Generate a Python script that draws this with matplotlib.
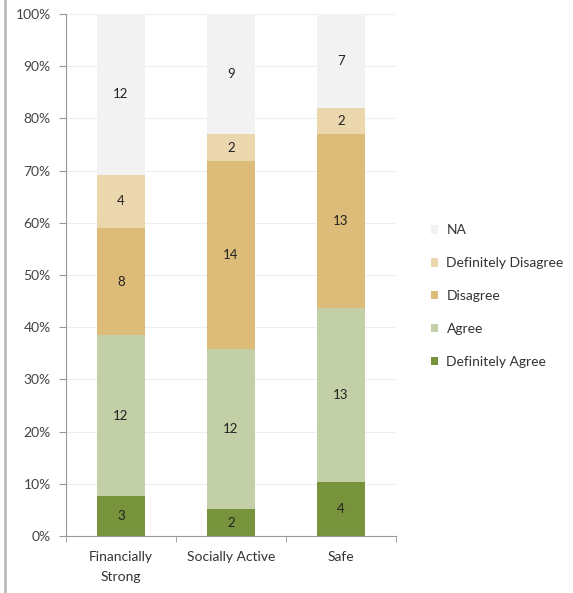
import numpy as np
import matplotlib
matplotlib.use("Agg")
import matplotlib.pyplot as plt
from matplotlib.lines import Line2D
from matplotlib.patches import Patch

plt.rcParams['font.family'] = ['Lato', 'DejaVu Sans']

categories = ["Financially\nStrong", "Socially Active", "Safe"]
series_names = ["Definitely Agree", "Agree", "Disagree", "Definitely Disagree", "NA"]
definitely_agree = [3, 2, 4]
agree = [12, 12, 13]
disagree = [8, 14, 13]
definitely_disagree = [4, 2, 2]
na = [12, 9, 7]
colors = ["#77933C", "#C3CFA6", "#DDBB78", "#EAD7AE", "#F2F2F2"]

series = [definitely_agree, agree, disagree, definitely_disagree, na]
counts = np.array(series, dtype=float)
totals = counts.sum(axis=0)
shares = counts / totals * 100

fig = plt.figure(figsize=(5.73, 5.93), dpi=100)
ax = fig.add_axes([66 / 573, 57 / 593, 330 / 573, 522 / 593])

x = np.arange(len(categories))
bottom = np.zeros(len(categories))
for vals, share, col in zip(series, shares, colors):
    ax.bar(x, share, bottom=bottom, width=0.43, color=col, zorder=2)
    for xi, b, s, v in zip(x, bottom, share, vals):
        ax.text(xi, b + s / 2, str(v), ha="center", va="center",
                fontsize=9.5, color="#222222", zorder=3)
    bottom += share

ax.set_xlim(-0.5, 2.5)
ax.set_ylim(0, 100)
ax.set_yticks(np.arange(0, 101, 10))
ax.set_yticklabels([f"{v}%" for v in range(0, 101, 10)], fontsize=10, color="#444444")
ax.set_xticks(x)
ax.set_xticklabels(categories, fontsize=10, color="#333333", linespacing=1.75)
ax.set_xticks([-0.5, 0.5, 1.5, 2.5], minor=True)
ax.tick_params(axis="x", which="major", length=0, pad=11)
ax.tick_params(axis="x", which="minor", length=4, color="#999999")
ax.tick_params(axis="y", length=5, color="#999999", pad=6)
ax.yaxis.grid(True, color="#EEEEEE", linewidth=0.8, zorder=0)
for side in ["top", "right"]:
    ax.spines[side].set_visible(False)
for side in ["left", "bottom"]:
    ax.spines[side].set_color("#999999")

handles = [Patch(facecolor=c, edgecolor="none") for c in colors]
leg = fig.legend(handles[::-1], series_names[::-1], loc="upper left",
                 bbox_to_anchor=(418 / 573, 1 - 212 / 593), frameon=False,
                 fontsize=10, handlelength=0.55, handleheight=0.55,
                 handletextpad=0.6, labelspacing=1.5)
for t in leg.get_texts():
    t.set_color("#333333")

fig.add_artist(Line2D([5 / 573, 5 / 573], [0, 1], color="#BBBBBB", linewidth=2,
                      transform=fig.transFigure))

fig.savefig("out.png", dpi=100)
